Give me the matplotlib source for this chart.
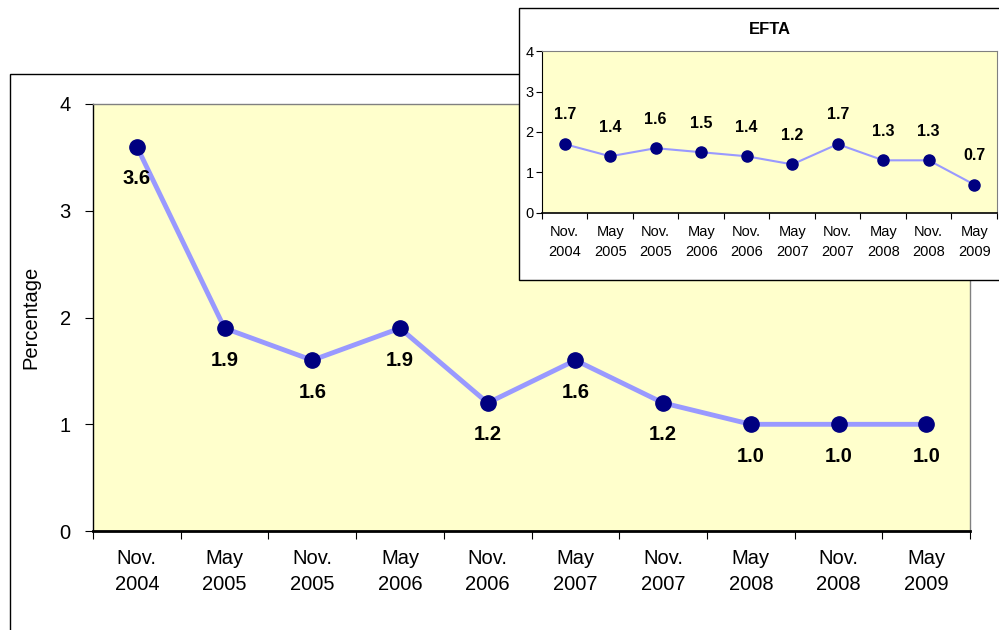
import matplotlib
matplotlib.use("Agg")
import matplotlib.pyplot as plt
from matplotlib.patches import Rectangle
import numpy as np

plt.rcParams['font.family'] = ['Liberation Sans', 'DejaVu Sans']

# data
periods = ['Nov.\n2004', 'May\n2005', 'Nov.\n2005', 'May\n2006', 'Nov.\n2006',
           'May\n2007', 'Nov.\n2007', 'May\n2008', 'Nov.\n2008', 'May\n2009']
main_values = [3.6, 1.9, 1.6, 1.9, 1.2, 1.6, 1.2, 1.0, 1.0, 1.0]
efta_values = [1.7, 1.4, 1.6, 1.5, 1.4, 1.2, 1.7, 1.3, 1.3, 0.7]
efta_title = 'EFTA'
y_label = 'Percentage'

bg = '#FFFFCC'
line_col = '#9999FF'
dot_col = '#000080'

fig = plt.figure(figsize=(9.99, 6.30), dpi=100)

# outer frame of main chart (runs off the canvas right and bottom)
fig.patches.append(Rectangle((0.010, -0.05), 1.2, 0.9325, transform=fig.transFigure,
                             fill=False, edgecolor='black', linewidth=1.0, zorder=0))

x = np.arange(len(periods))

# main chart
ax = fig.add_axes([0.0931, 0.157, 0.878, 0.678])
ax.set_facecolor(bg)
ax.plot(x, main_values, color=line_col, linewidth=3.5, zorder=2)
ax.plot(x, main_values, 'o', color=dot_col, markersize=11, zorder=3)
for xi, v in zip(x, main_values):
    ax.annotate(f'{v:.1f}', (xi, v), xytext=(0, -23), textcoords='offset points',
                ha='center', va='center', fontsize=14.5, fontweight='bold')
ax.set_xlim(-0.5, len(periods) - 0.5)
ax.set_ylim(0, 4)
ax.set_yticks([0, 1, 2, 3, 4])
ax.set_xticks(np.arange(-0.5, len(periods), 1))
ax.set_xticklabels([])
ax.set_xticks(x, minor=True)
ax.set_xticklabels(periods, minor=True, fontsize=14.5, linespacing=1.45)
ax.tick_params(axis='x', which='minor', length=0, pad=13)
ax.tick_params(axis='x', which='major', length=6, direction='out')
ax.tick_params(axis='y', length=6, labelsize=14.5, pad=10)
ax.set_ylabel(y_label, fontsize=14.5, labelpad=14)
for s in ['top', 'right']:
    ax.spines[s].set_color('#808080')
    ax.spines[s].set_linewidth(1.0)
ax.spines['left'].set_linewidth(1.0)
ax.spines['bottom'].set_linewidth(2.0)

# inset box
fig.patches.append(Rectangle((0.5195, 0.556), 0.5, 0.431, transform=fig.transFigure,
                             facecolor='white', edgecolor='black', linewidth=1.0, zorder=5))

ax2 = fig.add_axes([0.5425, 0.662, 0.4555, 0.257], zorder=6)
ax2.set_facecolor(bg)
ax2.plot(x, efta_values, color=line_col, linewidth=1.5, zorder=2)
ax2.plot(x, efta_values, 'o', color=dot_col, markersize=8, zorder=3)
for xi, v in zip(x, efta_values):
    ax2.annotate(f'{v:.1f}', (xi, v), xytext=(0, 21), textcoords='offset points',
                 ha='center', va='center', fontsize=11.5, fontweight='bold')
ax2.set_xlim(-0.5, len(periods) - 0.5)
ax2.set_ylim(0, 4)
ax2.set_yticks([0, 1, 2, 3, 4])
ax2.set_xticks(np.arange(-0.5, len(periods), 1))
ax2.set_xticklabels([])
ax2.set_xticks(x, minor=True)
ax2.set_xticklabels(periods, minor=True, fontsize=10.5, linespacing=1.55)
ax2.tick_params(axis='x', which='minor', length=0, pad=9)
ax2.tick_params(axis='x', which='major', length=4, direction='out')
ax2.tick_params(axis='y', length=4, labelsize=10.5, pad=2)
ax2.set_title(efta_title, fontsize=12, fontweight='bold', pad=12)
for s in ['top', 'right']:
    ax2.spines[s].set_color('#808080')
ax2.spines['bottom'].set_linewidth(1.2)

fig.savefig('out.png', dpi=100)
